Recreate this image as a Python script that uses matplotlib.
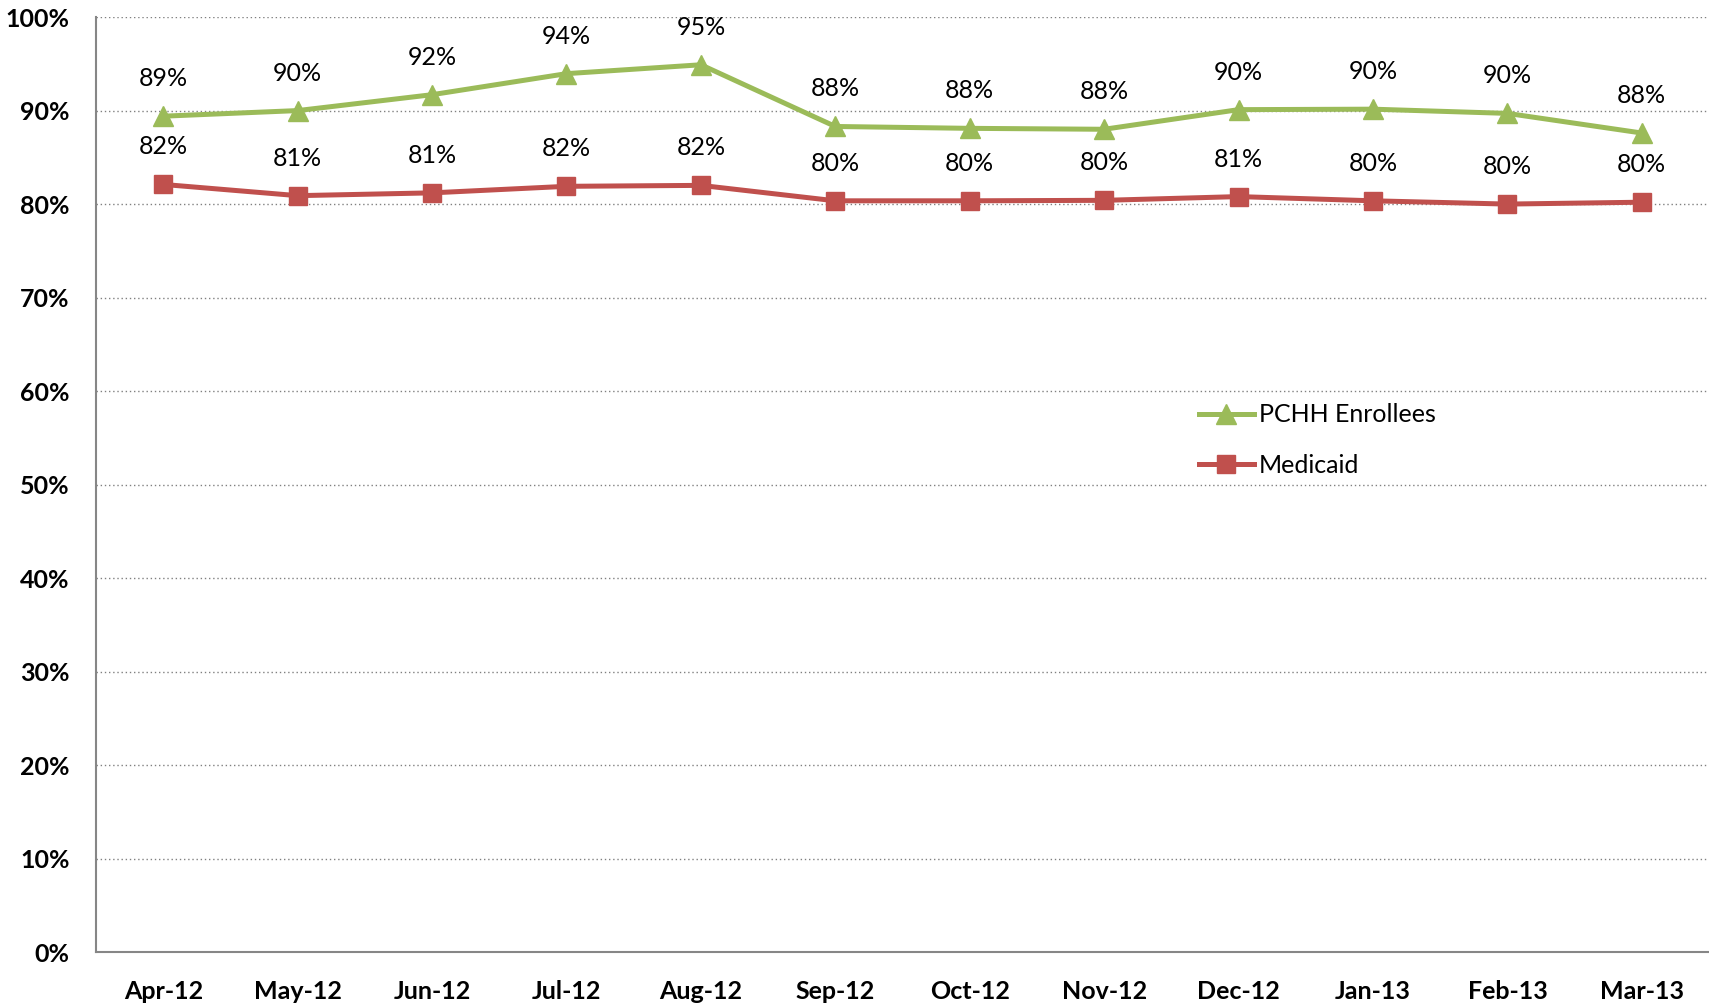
import matplotlib.pyplot as plt
from matplotlib.ticker import FuncFormatter

plt.rcParams['font.family'] = ['Lato', 'DejaVu Sans']

months = ["Apr-12", "May-12", "Jun-12", "Jul-12", "Aug-12", "Sep-12",
          "Oct-12", "Nov-12", "Dec-12", "Jan-13", "Feb-13", "Mar-13"]
pchh = [89.4, 90.0, 91.7, 93.95, 94.9, 88.3, 88.1, 88.0, 90.1, 90.15, 89.7, 87.6]
medicaid = [82.1, 80.9, 81.2, 81.9, 82.0, 80.35, 80.35, 80.4, 80.8, 80.35, 80.0, 80.2]

green = "#9BBB59"
red = "#C0504D"

fig = plt.figure(figsize=(17.09, 10.05), dpi=100)
ax = fig.add_axes([0.0562, 0.0527, 0.9438, 0.9303])

x = list(range(len(months)))
ax.plot(x, pchh, color=green, lw=3.6, marker="^", ms=15,
        label="PCHH Enrollees", zorder=3)
ax.plot(x, medicaid, color=red, lw=3.6, marker="s", ms=13,
        label="Medicaid", zorder=3)

# data labels above each point
for xi, v in zip(x, pchh):
    ax.annotate("%d%%" % round(v), (xi, v), xytext=(0, 27),
                textcoords="offset points", ha="center", va="center",
                fontsize=18)
for xi, v in zip(x, medicaid):
    ax.annotate("%d%%" % round(v), (xi, v), xytext=(0, 27),
                textcoords="offset points", ha="center", va="center",
                fontsize=18)

ax.set_xlim(-0.5, 11.5)
ax.set_ylim(0, 100)
ax.set_yticks(range(0, 101, 10))
ax.yaxis.set_major_formatter(FuncFormatter(lambda v, p: "%d%%" % v))
ax.set_xticks(x)
ax.set_xticklabels(months)
ax.tick_params(axis="both", length=0, labelsize=18)
ax.tick_params(axis="y", pad=19)
ax.tick_params(axis="x", pad=20)
for lab in ax.get_xticklabels() + ax.get_yticklabels():
    lab.set_fontweight("bold")

ax.grid(axis="y", color="#808080", linestyle=(0, (1, 2)), lw=1)
ax.set_axisbelow(True)
for s in ["top", "right"]:
    ax.spines[s].set_visible(False)
for s in ["left", "bottom"]:
    ax.spines[s].set_color("#868686")
    ax.spines[s].set_linewidth(1.5)

ax.legend(loc="center left", bbox_to_anchor=(0.694, 0.562),
          bbox_transform=fig.transFigure, frameon=False, fontsize=18,
          borderpad=0, handlelength=2.2, handletextpad=0.2, labelspacing=1.1)

fig.savefig("out.png", dpi=100)
